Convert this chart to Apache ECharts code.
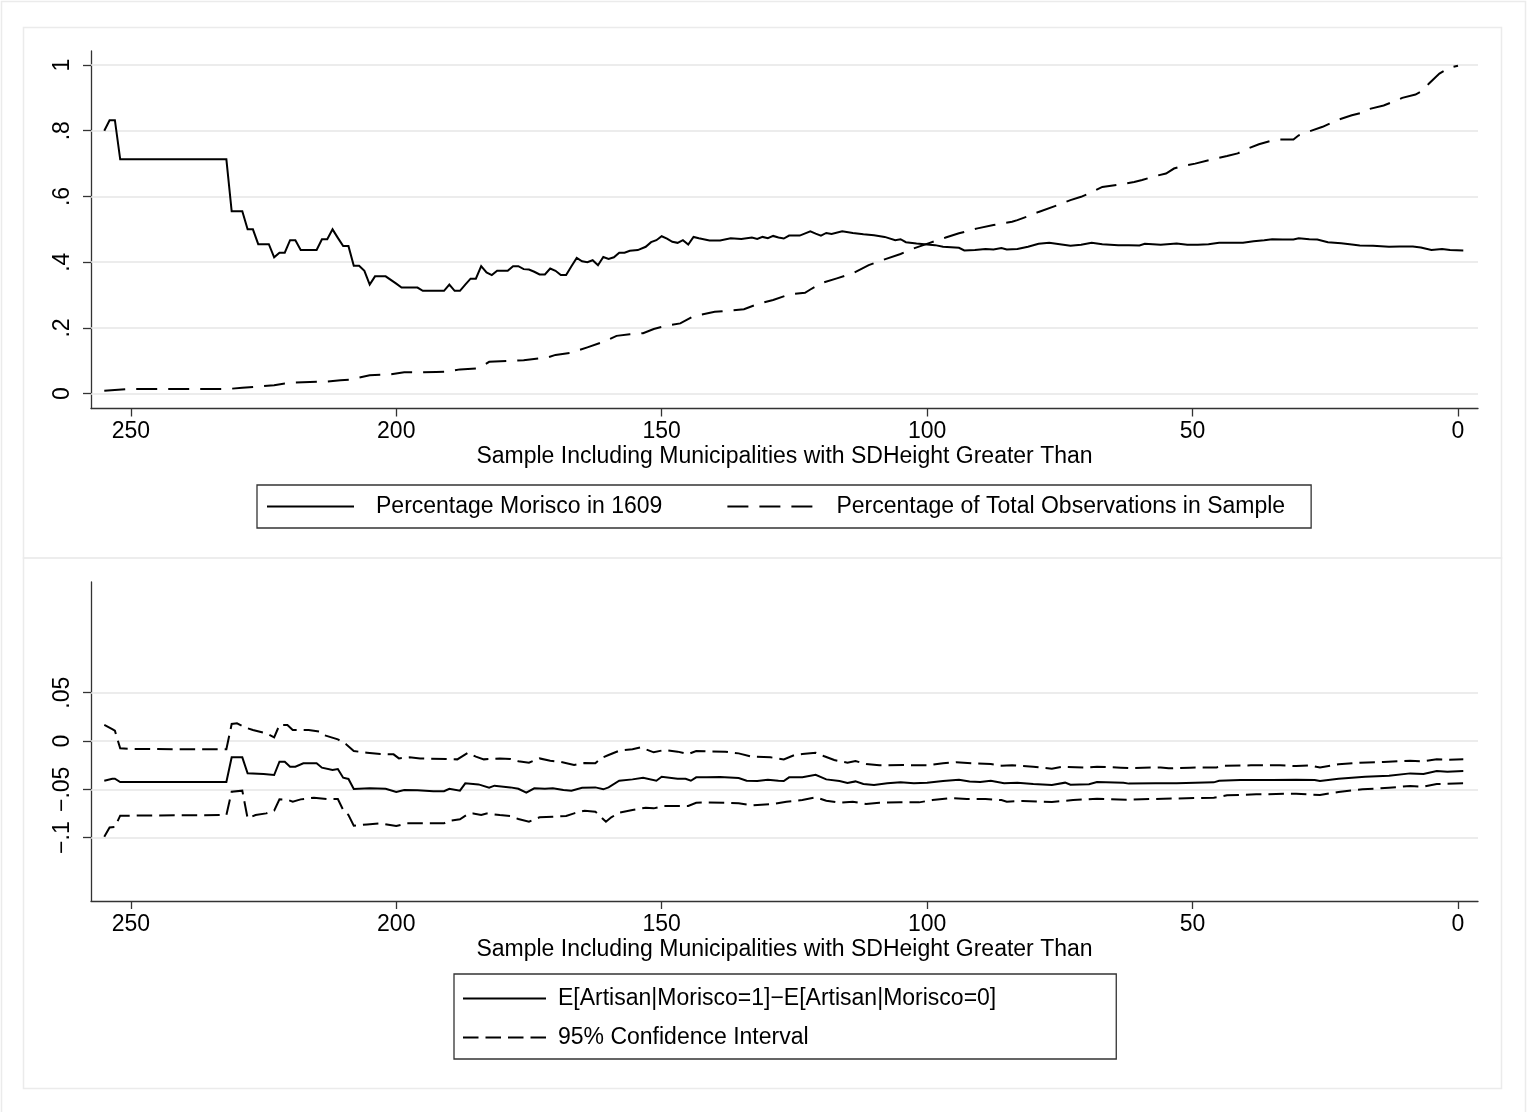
<!DOCTYPE html>
<html>
<head>
<meta charset="utf-8">
<script src="https://cdn.jsdelivr.net/npm/echarts@6/dist/echarts.min.js"></script>
<style>html,body{margin:0;padding:0;background:#fff;}#chart{width:1528px;height:1112px;}</style>
</head>
<body>
<div id="chart"></div>
<script>
// ---------------- DATA ----------------
const xTicks = [250, 200, 150, 100, 50, 0];
const topYTicks = [0, 0.2, 0.4, 0.6, 0.8, 1];
const topYLabels = ['0', '.2', '.4', '.6', '.8', '1'];
const botYTicks = [-0.1, -0.05, 0, 0.05];
const botYLabels = ['\u2212.1', '\u2212.05', '0', '.05'];

const xTitle = 'Sample Including Municipalities with SDHeight Greater Than';
const nameMorisco = 'Percentage Morisco in 1609';
const nameShare = 'Percentage of Total Observations in Sample';
const nameDiff = 'E[Artisan|Morisco=1]\u2212E[Artisan|Morisco=0]';
const nameCI = '95% Confidence Interval';

// [SDHeight threshold, value]
const morisco = [[255,0.80],[254,0.832],[253,0.832],[252,0.713],[232,0.713],[231,0.555],[229,0.555],[228,0.5],[227,0.5],[226,0.455],[224,0.455],[223,0.415],[222,0.429],[221,0.429],[220,0.467],[219,0.467],[218,0.437],[215,0.437],[214,0.47],[213,0.47],[212,0.5],[211,0.474],[210,0.449],[209,0.449],[208,0.389],[207,0.389],[206,0.374],[205,0.332],[204,0.357],[202,0.357],[200,0.335],[199,0.323],[196,0.323],[195,0.313],[191,0.313],[190,0.332],[189,0.313],[188,0.313],[187,0.332],[186,0.35],[185,0.35],[184,0.388],[183,0.369],[182,0.361],[181,0.374],[179,0.374],[178,0.388],[177,0.388],[176,0.379],[175,0.378],[174,0.371],[173,0.363],[172,0.363],[171,0.381],[170,0.374],[169,0.361],[168,0.361],[167,0.388],[166,0.413],[165,0.403],[164,0.4],[163,0.406],[162,0.391],[161,0.416],[160,0.41],[159,0.415],[158,0.429],[157,0.429],[156,0.435],[154.5,0.437],[153,0.447],[152,0.461],[151,0.467],[150,0.479],[149,0.472],[148,0.462],[147,0.459],[146,0.467],[145,0.454],[144,0.477],[143,0.473],[141,0.466],[139,0.466],[137,0.473],[135,0.471],[133,0.475],[132,0.471],[131,0.477],[130,0.473],[129,0.48],[128,0.475],[127,0.472],[126,0.481],[124,0.481],[122,0.494],[121,0.487],[120,0.481],[119,0.489],[118,0.486],[116,0.494],[114,0.489],[112,0.485],[110,0.482],[108,0.477],[106,0.467],[105,0.47],[104,0.461],[102,0.457],[100,0.454],[98.5,0.452],[97,0.447],[94,0.444],[93,0.436],[91,0.437],[89,0.44],[87.5,0.439],[86,0.443],[85,0.439],[83,0.44],[81,0.447],[79,0.456],[77,0.459],[75,0.455],[73,0.45],[71,0.453],[69,0.459],[67,0.455],[64,0.452],[62,0.452],[60,0.451],[59,0.456],[56,0.453],[53,0.457],[51,0.453],[49,0.453],[47,0.455],[45,0.459],[40.5,0.459],[38.5,0.464],[36.5,0.467],[35,0.47],[33,0.469],[31,0.469],[30,0.473],[28,0.47],[26.5,0.469],[24.5,0.461],[22,0.458],[20,0.454],[18.5,0.451],[16,0.45],[13,0.447],[11,0.448],[8.5,0.448],[7,0.445],[5,0.437],[3,0.44],[1.5,0.437],[-1,0.436]];

const sampleShare = [[255,0.009],[251,0.014],[232,0.014],[229,0.018],[226,0.022],[223,0.026],[221,0.031],[219,0.034],[213,0.037],[210.5,0.041],[208.5,0.043],[207,0.049],[205,0.056],[201,0.059],[198.5,0.065],[195,0.065],[192.5,0.066],[190.5,0.067],[188,0.074],[185,0.077],[183.5,0.087],[182.5,0.097],[176,0.102],[171.5,0.11],[170,0.118],[167,0.125],[164,0.141],[161.5,0.155],[160,0.165],[158.5,0.176],[156,0.181],[153.5,0.184],[151.5,0.197],[149,0.207],[146.5,0.214],[144,0.236],[140,0.249],[138,0.252],[134.5,0.257],[131.5,0.275],[129,0.285],[126,0.302],[123,0.307],[122,0.317],[120,0.336],[117,0.351],[114,0.366],[111,0.391],[108.5,0.406],[105,0.425],[102.5,0.442],[99.5,0.459],[96.5,0.475],[94,0.488],[90.5,0.503],[87.5,0.513],[84,0.523],[83,0.528],[81,0.54],[79,0.553],[75,0.576],[73,0.589],[71,0.599],[69.5,0.609],[67,0.629],[63.5,0.637],[61,0.644],[59.5,0.65],[57.5,0.66],[55,0.67],[53.5,0.685],[52,0.692],[49.5,0.7],[46,0.714],[43.5,0.723],[41.5,0.731],[40,0.743],[37.5,0.759],[35.5,0.768],[33.5,0.773],[31,0.773],[30,0.786],[28,0.798],[25.5,0.812],[23.5,0.827],[22.5,0.834],[20,0.847],[18,0.855],[17,0.865],[14,0.877],[11.5,0.893],[10.5,0.9],[8,0.91],[6.5,0.923],[5.5,0.943],[3.5,0.974],[1.5,0.992],[0,0.998]];

const diff = [[255,-0.0411],[253.5,-0.039],[253,-0.039],[252,-0.0424],[232,-0.0424],[231,-0.0169],[229,-0.0169],[228,-0.0334],[225,-0.0342],[223,-0.0352],[222,-0.0214],[221,-0.0214],[220,-0.0266],[219,-0.0266],[217.5,-0.0231],[215,-0.0231],[214,-0.0276],[212,-0.03],[211,-0.029],[210,-0.038],[209,-0.0393],[208,-0.0497],[205,-0.049],[202,-0.0494],[200,-0.0528],[198.5,-0.0507],[196,-0.051],[193,-0.0521],[191,-0.052],[190,-0.0494],[188,-0.0514],[187,-0.0438],[184.5,-0.0449],[182.5,-0.0483],[181.5,-0.0462],[178.5,-0.048],[177,-0.0494],[175.5,-0.0535],[174,-0.049],[172,-0.0493],[170.5,-0.049],[168.5,-0.0507],[167,-0.0514],[165,-0.0483],[162.5,-0.048],[161,-0.05],[160,-0.048],[158,-0.0411],[155.5,-0.0397],[153.5,-0.038],[151,-0.0411],[150,-0.037],[147,-0.039],[145.5,-0.039],[144.5,-0.0411],[143.5,-0.0376],[141.5,-0.0376],[139,-0.0373],[135.5,-0.0383],[134,-0.0411],[132,-0.0414],[130,-0.04],[128,-0.0411],[127,-0.0414],[126,-0.0376],[123.5,-0.0376],[121,-0.0349],[119,-0.0397],[116.5,-0.0414],[115,-0.0435],[113.5,-0.0418],[112,-0.0445],[110,-0.0455],[107.5,-0.0438],[105,-0.0428],[102.5,-0.0438],[100,-0.0431],[97,-0.0414],[94,-0.04],[92,-0.0418],[90,-0.0424],[88,-0.0412],[85.5,-0.0438],[83,-0.0431],[80,-0.0445],[76.5,-0.0455],[74,-0.0431],[73,-0.0452],[69.5,-0.0448],[68,-0.0424],[63,-0.0431],[62,-0.0441],[57,-0.0438],[53,-0.0438],[46,-0.0428],[45,-0.0411],[41,-0.0404],[35,-0.0404],[30.5,-0.04],[27,-0.0404],[26,-0.0414],[22.5,-0.039],[17.5,-0.037],[13,-0.0359],[9,-0.0335],[6.5,-0.0342],[4,-0.0311],[2,-0.0318],[-1,-0.0311]];

const ciUpper = [[255,0.0166],[253.5,0.0124],[253,0.0107],[252,-0.0076],[249.5,-0.0083],[232,-0.0086],[231,0.0176],[230,0.0183],[228.5,0.0142],[227,0.0114],[224.5,0.008],[223,0.0038],[222,0.0166],[220.5,0.0166],[219.5,0.0114],[216.5,0.0114],[214.5,0.0097],[213.5,0.0059],[211,0.0017],[209.5,-0.0031],[208,-0.0104],[205.5,-0.0121],[203,-0.0135],[200.5,-0.0138],[199.5,-0.018],[197.5,-0.0169],[195.5,-0.018],[190.5,-0.0186],[188.5,-0.019],[186.5,-0.0121],[185,-0.0162],[183.5,-0.019],[180.5,-0.018],[178.5,-0.0186],[177,-0.021],[175,-0.0224],[173,-0.018],[171,-0.0204],[169,-0.0217],[166.5,-0.0248],[164.5,-0.0228],[162.5,-0.0231],[161.5,-0.018],[160,-0.0145],[158,-0.01],[155.5,-0.0086],[154,-0.0066],[151.5,-0.0117],[149.5,-0.0093],[147,-0.011],[145,-0.0135],[143.5,-0.0104],[141.5,-0.0107],[138,-0.011],[135.5,-0.0128],[133,-0.0162],[129.5,-0.0169],[127,-0.019],[125,-0.0145],[123.5,-0.0135],[121,-0.0121],[119.5,-0.0155],[117.5,-0.0197],[115,-0.0224],[113.5,-0.0207],[111.5,-0.0238],[109,-0.0252],[104.5,-0.0249],[100,-0.0252],[97,-0.0231],[94.5,-0.022],[91.5,-0.0231],[88,-0.0238],[86,-0.0255],[84,-0.0252],[80,-0.0266],[76.5,-0.0286],[74.5,-0.0266],[70,-0.0276],[68,-0.0266],[63.5,-0.0276],[62,-0.028],[56,-0.0273],[54.5,-0.0283],[50.5,-0.0276],[45.5,-0.0273],[44,-0.0255],[39,-0.0252],[33.5,-0.0252],[30.5,-0.0259],[28,-0.0252],[26,-0.0273],[22.5,-0.0241],[18.5,-0.0224],[14,-0.0217],[9,-0.0204],[6.5,-0.021],[4,-0.019],[2,-0.0193],[-1,-0.019]];

const ciLower = [[255,-0.099],[254,-0.0894],[253,-0.089],[252,-0.0773],[232,-0.0766],[231,-0.0525],[229,-0.0514],[228,-0.08],[226.5,-0.0766],[224.5,-0.0749],[223,-0.0721],[222,-0.0604],[220.5,-0.0607],[219.5,-0.0628],[218,-0.0604],[215.5,-0.0587],[213,-0.06],[211,-0.06],[210,-0.0714],[209,-0.0766],[208,-0.0876],[205.5,-0.0863],[203,-0.0852],[200,-0.088],[198,-0.0852],[191,-0.0852],[190,-0.0825],[188,-0.081],[186.5,-0.0756],[185.5,-0.075],[184,-0.0766],[183,-0.075],[180.5,-0.0766],[178.5,-0.0776],[177,-0.0807],[175,-0.0835],[173,-0.079],[170.5,-0.0783],[168,-0.0776],[166.5,-0.0749],[164.5,-0.0721],[162.5,-0.0731],[160.5,-0.0835],[159.5,-0.079],[158,-0.0742],[155.5,-0.0714],[153,-0.069],[151.5,-0.0697],[149.5,-0.0673],[145,-0.0673],[143.5,-0.0639],[141.5,-0.0635],[138,-0.0639],[135.5,-0.0645],[133,-0.0666],[129,-0.0652],[126.5,-0.0628],[123.5,-0.0611],[121,-0.0583],[119,-0.0618],[116.5,-0.0639],[114,-0.0628],[111.5,-0.0652],[109,-0.0639],[105,-0.0635],[101.5,-0.0635],[99,-0.0611],[95.5,-0.059],[92.5,-0.06],[89,-0.06],[86,-0.0611],[85,-0.0628],[82,-0.0621],[76.5,-0.0631],[72.5,-0.0611],[68,-0.0597],[62.5,-0.0607],[55.5,-0.0597],[46,-0.0587],[43.5,-0.0562],[38,-0.0552],[30.5,-0.0545],[26,-0.0559],[22.5,-0.0528],[18,-0.05],[13,-0.0483],[9,-0.0466],[6.5,-0.0473],[4,-0.0445],[-1,-0.0438]];

// ---------------- STYLE ----------------
const FONT = "'Liberation Sans', Arial, Helvetica, sans-serif";
const FS = 23;
const AXIS_COLOR = '#333';
const GRID_COLOR = '#e6e6e6';

function lookup(ticks, labels) {
  return function (v) {
    for (let i = 0; i < ticks.length; i++) {
      if (Math.abs(ticks[i] - v) < 1e-9) return labels[i];
    }
    return '';
  };
}

function xAxisCfg(gridIndex) {
  return {
    type: 'value', gridIndex: gridIndex, inverse: true,
    min: -3.77, max: 257.5,
    name: xTitle, nameLocation: 'middle', nameGap: 37,
    nameTextStyle: { fontSize: FS, fontFamily: FONT, color: '#000' },
    axisLine: { show: true, onZero: false, lineStyle: { color: AXIS_COLOR, width: 1.3 } },
    axisTick: { show: true, length: 8, customValues: xTicks, lineStyle: { color: AXIS_COLOR, width: 1.3 } },
    axisLabel: { show: true, customValues: xTicks, margin: 12, fontSize: FS, fontFamily: FONT, color: '#000',
                 formatter: v => String(v) },
    splitLine: { show: false }
  };
}

function yAxisCfg(gridIndex, min, max, ticks, labels) {
  return {
    type: 'value', gridIndex: gridIndex, min: min, max: max,
    axisLine: { show: true, onZero: false, lineStyle: { color: AXIS_COLOR, width: 1.3 } },
    axisTick: { show: true, length: 8, customValues: ticks, lineStyle: { color: AXIS_COLOR, width: 1.3 } },
    axisLabel: { show: true, customValues: ticks, rotate: 90, margin: 17, fontSize: FS, fontFamily: FONT, color: '#000',
                 formatter: lookup(ticks, labels) },
    splitLine: { show: false }
  };
}

function gridLines(ticks) {
  return {
    silent: true, symbol: 'none', z: 1, animation: false,
    label: { show: false },
    lineStyle: { color: GRID_COLOR, width: 1.5, type: 'solid' },
    emphasis: { disabled: true },
    data: ticks.map(t => ({ yAxis: t }))
  };
}

function lineSeries(name, data, xi, yi, dash, extra) {
  const s = {
    name: name, type: 'line', xAxisIndex: xi, yAxisIndex: yi,
    data: data, symbol: 'none', showSymbol: false, smooth: false,
    z: 3, silent: true, animation: false,
    lineStyle: { color: '#000', width: 2, type: dash || 'solid', cap: 'butt', join: 'miter' },
    itemStyle: { color: '#000' },
    emphasis: { disabled: true }
  };
  return Object.assign(s, extra || {});
}

const legendCommon = {
  borderColor: '#333', borderWidth: 1.3, borderRadius: 0, backgroundColor: '#fff',
  selectedMode: false, itemHeight: 14,
  itemStyle: { color: 'rgba(0,0,0,0)', borderColor: 'rgba(0,0,0,0)', borderWidth: 0 }
};

const chart = echarts.init(document.getElementById('chart'), null, { renderer: 'canvas' });

const option = {
  backgroundColor: '#fff',
  animation: false,
  textStyle: { fontFamily: FONT },
  graphic: [
    { type: 'rect', silent: true, z: -1, shape: { x: 1.5, y: 1.5, width: 1524, height: 1125 },
      style: { fill: 'none', stroke: '#ebebeb', lineWidth: 1.5 } },
    { type: 'rect', silent: true, z: -1, shape: { x: 23.5, y: 27.5, width: 1478, height: 530.5 },
      style: { fill: 'none', stroke: '#ebebeb', lineWidth: 1.5 } },
    { type: 'rect', silent: true, z: -1, shape: { x: 23.5, y: 558, width: 1478, height: 530.5 },
      style: { fill: 'none', stroke: '#ebebeb', lineWidth: 1.5 } }
  ],
  grid: [
    { left: 91, top: 51, width: 1387, height: 357.5, containLabel: false },
    { left: 91, top: 582, width: 1387, height: 319, containLabel: false }
  ],
  xAxis: [xAxisCfg(0), xAxisCfg(1)],
  yAxis: [
    yAxisCfg(0, -0.045, 1.0426, topYTicks, topYLabels),
    yAxisCfg(1, -0.1656, 0.1646, botYTicks, botYLabels)
  ],
  legend: [
    Object.assign({
      data: [nameMorisco, nameShare],
      orient: 'horizontal', left: 257, top: 485,
      itemWidth: 87, itemGap: 64,
      padding: [10, 26, 10, 9],
      textStyle: { fontSize: FS, fontFamily: FONT, color: '#000', padding: [0, 0, 0, 17] }
    }, legendCommon),
    Object.assign({
      data: [nameDiff, nameCI],
      orient: 'vertical', left: 454, top: 974,
      itemWidth: 83, itemGap: 16,
      padding: [13, 120, 10, 8],
      textStyle: { fontSize: FS, fontFamily: FONT, color: '#000', padding: [0, 0, 0, 7] }
    }, legendCommon)
  ],
  series: [
    lineSeries(nameMorisco, morisco, 0, 0, 'solid', { markLine: gridLines(topYTicks) }),
    lineSeries(nameShare, sampleShare, 0, 0, [21, 11]),
    lineSeries(nameDiff, diff, 1, 1, 'solid', { markLine: gridLines(botYTicks) }),
    lineSeries(nameCI, ciUpper, 1, 1, [15.5, 7]),
    lineSeries(nameCI, ciLower, 1, 1, [15.5, 7])
  ]
};

chart.setOption(option);
</script>
</body>
</html>
